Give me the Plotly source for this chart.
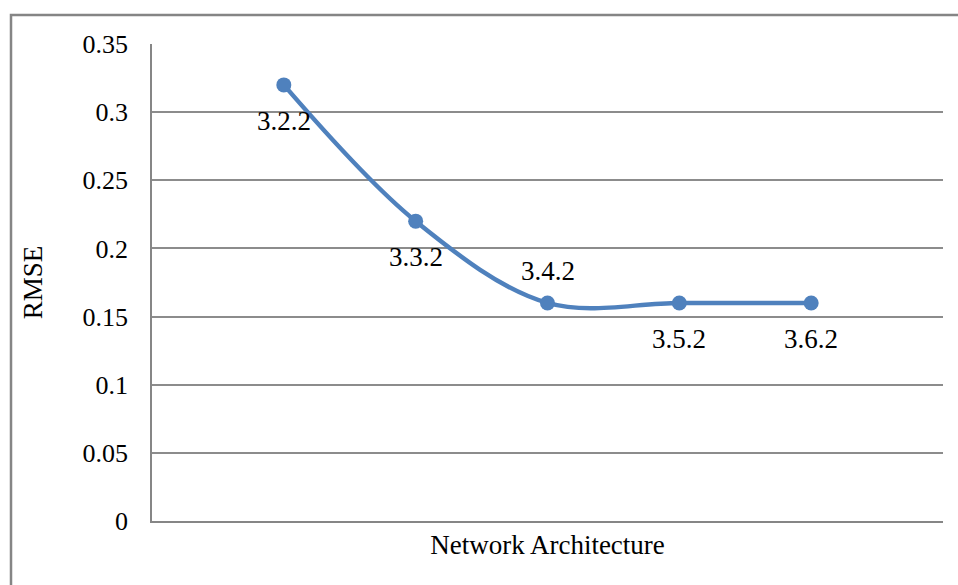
import plotly.graph_objects as go

# Data
architectures = ["3.2.2", "3.3.2", "3.4.2", "3.5.2", "3.6.2"]
x_index = [1, 2, 3, 4, 5]
rmse = [0.32, 0.22, 0.16, 0.16, 0.16]
label_side = ["below", "below", "above", "below", "below"]

W, H = 958, 585
L, R, T, B = 152, 15, 44, 64
pw, ph = W - L - R, H - T - B

def px_to_paper_x(px):
    return (px - L) / pw

def px_to_paper_y(py):
    return (H - B - py) / ph

line_color = "#4F81BD"
font_family = "Liberation Serif, Times New Roman, serif"

fig = go.Figure()
fig.add_trace(go.Scatter(
    x=x_index, y=rmse,
    mode="lines+markers",
    line=dict(color=line_color, width=4.5, shape="spline", smoothing=1),
    marker=dict(color=line_color, size=15),
    cliponaxis=False,
    showlegend=False,
))

annotations = []
for xi, yi, lab, side in zip(x_index, rmse, architectures, label_side):
    annotations.append(dict(
        x=xi, y=yi, xref="x", yref="y", text=lab, showarrow=False,
        xanchor="center", yanchor="middle",
        yshift=32 if side == "above" else -36,
        font=dict(family=font_family, size=27, color="#000000"),
    ))

fig.update_layout(
    width=W, height=H,
    margin=dict(l=L, r=R, t=T, b=B),
    paper_bgcolor="white", plot_bgcolor="white",
    font=dict(family=font_family, size=26, color="#000000"),
    annotations=annotations,
    shapes=[dict(
        type="rect", xref="paper", yref="paper", layer="below",
        x0=px_to_paper_x(11), x1=px_to_paper_x(970),
        y0=px_to_paper_y(600), y1=px_to_paper_y(15),
        line=dict(color="#858585", width=2.5), fillcolor="rgba(0,0,0,0)",
    )],
    xaxis=dict(
        range=[0, 6], showticklabels=False, showgrid=False, zeroline=False,
        showline=True, linecolor="#868686", linewidth=1.5, ticks="",
        title=dict(text="Network Architecture", standoff=13,
                   font=dict(family=font_family, size=27)),
    ),
    yaxis=dict(
        range=[0, 0.35], dtick=0.05, tick0=0, showgrid=True,
        gridcolor="#8c8c8c", gridwidth=1.5, zeroline=False,
        showline=True, linecolor="#868686", linewidth=1.5, ticks="",
        ticklabelstandoff=17,
        tickfont=dict(family=font_family, size=26),
        title=dict(text="RMSE", standoff=32,
                   font=dict(family=font_family, size=27)),
    ),
)

fig.write_html("out.html")
